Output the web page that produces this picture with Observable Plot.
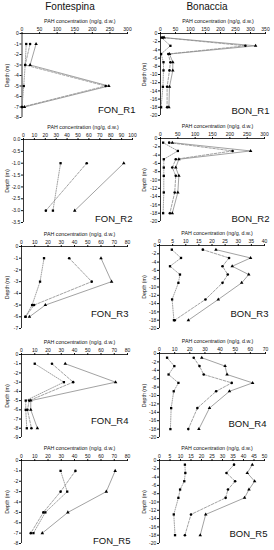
<!DOCTYPE html>
<html><head><meta charset="utf-8">
<script src="https://cdn.jsdelivr.net/npm/d3@7"></script>
<script src="https://cdn.jsdelivr.net/npm/@observablehq/plot@0.6"></script>
<style>
body{margin:0;background:#fff;font-family:"Liberation Sans",Arial,sans-serif;}
#c{position:relative;width:274px;height:550px;overflow:hidden;background:#fff;}
.t{position:absolute;top:1px;font-size:10px;line-height:11px;text-align:center;color:#111;}
.p{position:absolute;}
</style></head><body><div id="c"></div>
<script>
// ---- text ----
const sites = ["Fontespina", "Bonaccia"];
const axisLabel = "PAH concentration (ng/g, d.w.)";
const depthLabel = "Depth (m)";

// ---- Fontespina data (depth m, PAH ng/g) ----
const fonR1Depth = [-1, -3, -5, -7];
const fonR1A = [12, 9, 5, 0];
const fonR1B = [23, 9, 238, 0];
const fonR1C = [40, 23, 247, 7];

const fonR2Depth = [-1, -3];
const fonR2A = [34, 27];
const fonR2B = [58, 20.5];
const fonR2C = [92, 47];

const fonR3Depth = [-1, -3, -5, -6];
const fonR3A = [17, 14, 8, 3];
const fonR3B = [36, 53, 9.5, 3];
const fonR3C = [60, 68, 18, 6];

const fonR4Depth = [-1, -3, -5, -6, -8];
const fonR4A = [10, 32, 3.2, 3.2, 4];
const fonR4B = [23, 39, 5.8, 4.5, 7.5];
const fonR4C = [33, 71, 7, 7, 12];

const fonR5Depth = [-1, -3, -5, -7];
const fonR5A = [29.5, 34.5, 18, 9];
const fonR5B = [40.7, 29.5, 16.5, 7];
const fonR5C = [70.7, 64, 35, 15.7];

// ---- Bonaccia data ----
const bonDepth = [-1, -3, -5, -7, -9, -13, -18];
const bonR1A = [3, 33, 2, 10, 10, 8, 2];
const bonR1B = [8, 283, 26, 33, 30, 22, 22];
const bonR1C = [12, 317, 30, 41, 41, 30, 28];

const bonR2A = [7.6, 50, 9.5, 9.5, 9.5, 9.5, 7.6];
const bonR2B = [25, 208, 44, 34, 44, 41, 27];
const bonR2C = [34, 260, 53, 44, 53, 50, 34];

const bonR3A = [4.7, 8.2, 4, 7.8, 7.2, 4.8, 5.5];
const bonR3B = [16.5, 26.5, 24, 26, 24, 17.5, 5.8];
const bonR3C = [21.5, 34.7, 27.7, 34, 31.3, 22.4, 11];

const bonR4A = [5, 9.8, 6, 12.5, 9.4, 7.7, 7.2];
const bonR4B = [22.6, 26.4, 29.2, 47.7, 37.4, 25, 19];
const bonR4C = [27.9, 43.3, 44.6, 61.5, 46.2, 33, 26];

const bonR5A = [12.1, 12.3, 11.8, 9.8, 9, 6.8, 7.4];
const bonR5B = [35.5, 31.9, 36, 32.6, 31.5, 15, 12.1];
const bonR5C = [44.2, 41.8, 45.3, 42.6, 40.5, 22, 19.4];

// ---- axis settings ----
const fonXMax = [300, 100, 80, 80, 80];
const fonXStep = [50, 10, 10, 10, 10];
const fonYMin = [-8, -3.5, -7, -9, -8];
const fonYStep = [1, 0.5, 1, 1, 1];
const bonXMax = [350, 300, 40, 70, 50];
const bonXStep = [50, 50, 5, 10, 5];

const panels = [
  {name:"FON_R1", depth:fonR1Depth, series:[fonR1A,fonR1B,fonR1C], col:0, row:0},
  {name:"FON_R2", depth:fonR2Depth, series:[fonR2A,fonR2B,fonR2C], col:0, row:1},
  {name:"FON_R3", depth:fonR3Depth, series:[fonR3A,fonR3B,fonR3C], col:0, row:2},
  {name:"FON_R4", depth:fonR4Depth, series:[fonR4A,fonR4B,fonR4C], col:0, row:3},
  {name:"FON_R5", depth:fonR5Depth, series:[fonR5A,fonR5B,fonR5C], col:0, row:4},
  {name:"BON_R1", depth:bonDepth, series:[bonR1A,bonR1B,bonR1C], col:1, row:0},
  {name:"BON_R2", depth:bonDepth, series:[bonR2A,bonR2B,bonR2C], col:1, row:1},
  {name:"BON_R3", depth:bonDepth, series:[bonR3A,bonR3B,bonR3C], col:1, row:2},
  {name:"BON_R4", depth:bonDepth, series:[bonR4A,bonR4B,bonR4C], col:1, row:3},
  {name:"BON_R5", depth:bonDepth, series:[bonR5A,bonR5B,bonR5C], col:1, row:4}
];

// ---- layout (page pixels) ----
const frames = {
  FON_R1:{x0:21.5,x1:127,y0:33,y1:117, ldx:8, ldy:-5},
  FON_R2:{x0:23,x1:132,y0:139,y1:222, ldx:0, ldy:-1},
  FON_R3:{x0:21,x1:127,y0:246,y1:328, ldx:1, ldy:-12},
  FON_R4:{x0:21,x1:127,y0:354,y1:437, ldx:1, ldy:-14},
  FON_R5:{x0:21,x1:127,y0:460,y1:543, ldx:3, ldy:0},
  BON_R1:{x0:160,x1:265,y0:33,y1:115, ldx:4, ldy:-2},
  BON_R2:{x0:160,x1:264,y0:138,y1:221, ldx:5, ldy:0},
  BON_R3:{x0:159,x1:264,y0:245,y1:328, ldx:4, ldy:-12},
  BON_R4:{x0:159,x1:265,y0:353,y1:437, ldx:1, ldy:-11},
  BON_R5:{x0:159,x1:264,y0:460,y1:543, ldx:3, ldy:-7}
};

const symbols = ["square", "circle", "triangle"];
const dashes = ["1,1.3", "2.5,1.5", null];
const FONT = "Liberation Sans, Arial, sans-serif";
const c = document.getElementById("c");

sites.forEach((s, i) => {
  const d = document.createElement("div");
  d.className = "t";
  d.textContent = s;
  d.style.left = (i === 0 ? 20 : 157) + "px";
  d.style.width = "100px";
  c.appendChild(d);
});

panels.forEach(p => {
  const f = frames[p.name];
  const isFon = p.col === 0;
  const xmax = isFon ? fonXMax[p.row] : bonXMax[p.row];
  const xstep = isFon ? fonXStep[p.row] : bonXStep[p.row];
  const ymin = isFon ? fonYMin[p.row] : -20;
  const ystep = isFon ? fonYStep[p.row] : 2;
  const rows = [];
  p.series.forEach((vals, si) => vals.forEach((v, i) => rows.push({s: si, depth: p.depth[i], value: v})));
  const xt = d3.range(0, xmax + 1e-9, xstep);
  const yt = d3.range(0, ymin - 1e-9, -ystep);
  const colLeft = p.col * 137;
  const mt = 24, mb = 8;
  const H = f.y1 - f.y0 + mt + mb;
  const marks = [
    Plot.axisX({anchor:"top", ticks:xt, tickSize:2, tickPadding:1, fontSize:5, label:null, tickFormat:d => String(d)}),
    Plot.axisY({anchor:"left", ticks:yt, tickSize:2, tickPadding:1.2, fontSize:5, label:null,
      tickFormat: ystep < 1 ? (d => d.toFixed(1)) : (d => String(d))}),
    Plot.ruleX([0], {stroke:"#000", strokeWidth:0.8}),
    Plot.ruleY([0], {stroke:"#000", strokeWidth:0.8})
  ];
  [0,1,2].forEach(si => {
    marks.push(Plot.line(rows, {filter:d => d.s === si, x:"value", y:"depth", stroke:"#8a8a8a", strokeWidth:0.8, strokeDasharray:dashes[si]}));
  });
  [0,1,2].forEach(si => {
    marks.push(Plot.dot(rows, {filter:d => d.s === si, x:"value", y:"depth", symbol:symbols[si], r:1.3, fill:"#000", stroke:"none"}));
  });
  marks.push(Plot.text([axisLabel], {frameAnchor:"top", dx:5, dy:-12, fontSize:5.3, textAnchor:"middle", lineAnchor:"middle", fill:"#111"}));
  marks.push(Plot.text([depthLabel], {frameAnchor:"left", dx:-(f.x0 - colLeft) + 7, rotate:-90, fontSize:5.3, textAnchor:"middle", lineAnchor:"middle", fill:"#111"}));
  marks.push(Plot.text([p.name], {frameAnchor:"bottom-right", dx:f.ldx, dy:f.ldy, fontSize:9.5, textAnchor:"end", lineAnchor:"bottom", fill:"#111"}));
  const svg = Plot.plot({
    width:137, height:H,
    marginLeft:f.x0 - colLeft, marginRight:colLeft + 137 - f.x1,
    marginTop:mt, marginBottom:mb,
    style:{background:"transparent", fontFamily:FONT, overflow:"visible", color:"#111"},
    x:{domain:[0, xmax]},
    y:{domain:[ymin, 0]},
    marks
  });
  svg.classList.add("p");
  svg.style.left = colLeft + "px";
  svg.style.top = (f.y0 - mt) + "px";
  c.appendChild(svg);
});
</script></body></html>
